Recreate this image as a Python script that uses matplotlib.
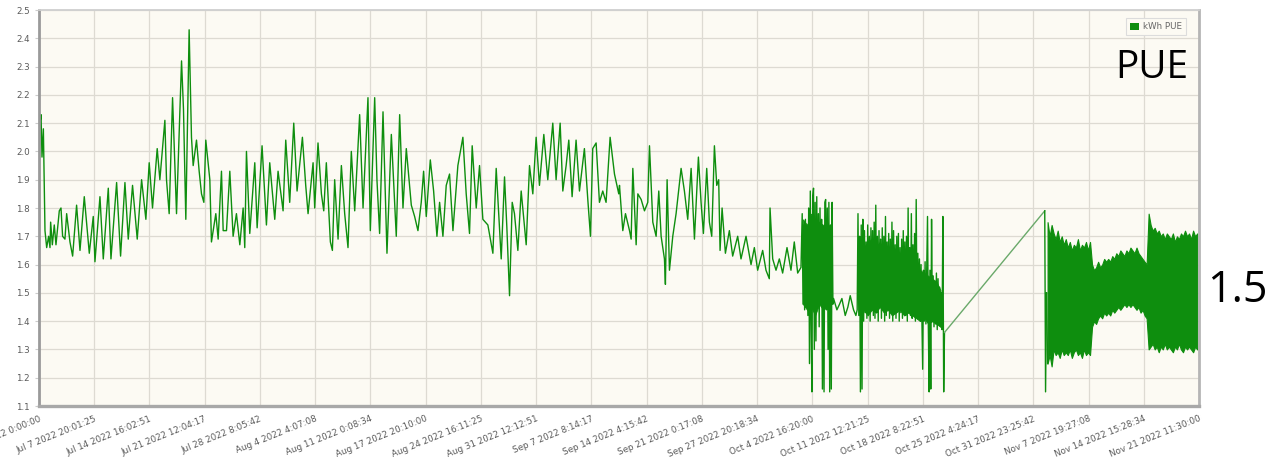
import numpy as np
import matplotlib.pyplot as plt
from matplotlib.patches import Patch

# PUE readings, days counted from Jul 1 2022 0:00
hist_day = [
    0.0, 0.12, 0.25, 0.37, 0.54, 0.74, 0.95, 1.19, 1.36, 1.44, 1.65, 1.89, 2.1, 2.3, 2.51,
    2.72, 2.92, 3.21, 3.42, 3.83, 4.16, 4.65, 5.07, 5.6, 5.97, 6.22, 6.71, 6.92, 7.54, 7.95,
    8.57, 8.9, 9.6, 10.09, 10.63, 11.04, 11.57, 12.15, 12.69, 13.22, 13.63, 14.04, 14.62, 14.95,
    15.57, 15.77, 16.1, 16.52, 17.01, 17.63, 17.87, 18.16, 18.57, 18.86, 19.07, 19.48, 19.81,
    20.1, 20.39, 20.63, 21.13, 21.33, 21.87, 22.16, 22.57, 22.78, 23.19, 23.6, 24.01, 24.42,
    24.84, 25.25, 25.45, 25.66, 26.07, 26.69, 26.98, 27.59, 28.13, 28.54, 29.16, 29.57, 30.19,
    30.52, 31.01, 31.51, 31.92, 32.58, 32.99, 33.28, 33.9, 34.1, 34.51,
    34.93, 35.22, 35.54, 36.04, 36.29, 36.57, 36.99, 37.4, 37.81, 38.22, 38.63, 39.05, 39.66,
    40.08, 40.69, 40.98, 41.52, 41.8, 42.13, 42.55, 43.04, 43.58, 44.19, 44.61, 45.02, 45.43,
    46.05, 46.46, 46.87, 47.28, 47.57, 47.9, 48.4, 48.81, 49.22, 49.55, 49.96, 50.37, 50.78,
    51.2, 51.81, 52.43, 52.84, 53.25, 53.58, 54.08, 54.49, 54.9, 55.52, 56.14, 56.55, 57.17,
    57.58, 57.87, 58.2, 58.53, 58.81, 59.23, 59.64, 60.26, 60.67, 61.08, 61.49, 61.9, 62.44,
    62.93, 63.55, 63.96, 64.46, 64.79, 65.2, 65.53, 65.94, 66.43, 66.85, 67.46, 67.88, 68.21,
    68.49, 68.91, 69.32, 69.73, 70.14, 70.64, 71.18, 71.71,
    71.8, 72.21, 72.54, 73.04, 73.24, 73.45, 73.86, 74.07, 74.48, 74.89, 75.3, 75.51, 75.92,
    76.33, 76.66, 76.95, 77.36, 77.48, 77.69, 77.98, 78.39, 78.8, 79.42, 79.83, 80.24, 80.66,
    81.07, 81.56, 81.89, 82.18, 82.59, 82.92, 83.21, 83.54, 83.83, 84.07, 84.24, 84.49, 84.9,
    85.39, 85.8, 86.42, 86.83, 87.45, 88.07, 88.48, 88.89, 89.51, 89.92, 90.33, 90.42, 90.75,
    91.16, 91.57, 91.98, 92.52, 93.01, 93.42, 93.84, 94.25,
]
hist_pue = [
    1.93, 2.10, 2.13, 1.98, 2.08, 1.72, 1.66, 1.70, 1.66, 1.75, 1.67, 1.74, 1.67, 1.73, 1.79,
    1.80, 1.70, 1.69, 1.78, 1.68, 1.63, 1.81, 1.65, 1.84, 1.72, 1.64, 1.77, 1.61, 1.84, 1.62,
    1.87, 1.62, 1.89, 1.63, 1.89, 1.69, 1.88, 1.69, 1.90, 1.76, 1.96, 1.80, 2.01, 1.90,
    2.11, 1.90, 1.78, 2.19, 1.78, 2.32, 2.15, 1.76, 2.43, 2.05, 1.95, 2.04, 1.93,
    1.85, 1.82, 2.04, 1.90, 1.68, 1.78, 1.69, 1.93, 1.72, 1.72, 1.93, 1.70, 1.78,
    1.67, 1.80, 1.66, 2.00, 1.71, 1.96, 1.73, 2.02, 1.74, 1.96, 1.76, 1.93, 1.79,
    2.04, 1.82, 2.10, 1.86, 2.05, 1.88, 1.78, 1.96, 1.80, 2.03,
    1.85, 1.79, 1.96, 1.68, 1.65, 1.90, 1.69, 1.95, 1.78, 1.66, 2.00, 1.79, 2.13,
    1.80, 2.19, 1.72, 2.19, 1.90, 1.71, 2.14, 1.64, 2.06, 1.70, 2.13, 1.80, 2.01,
    1.81, 1.77, 1.72, 1.82, 1.93, 1.77, 1.97, 1.86, 1.70, 1.82, 1.70, 1.88, 1.92,
    1.72, 1.95, 2.05, 1.85, 1.71, 2.02, 1.80, 1.95, 1.76, 1.74, 1.64, 1.94, 1.62,
    1.91, 1.73, 1.49, 1.82, 1.78, 1.65, 1.86, 1.67, 1.95, 1.85, 2.05, 1.88, 2.06,
    1.90, 2.10, 1.90, 2.10, 1.86, 1.95, 2.04, 1.84, 2.04, 1.86, 2.01, 1.83, 1.70,
    2.01, 2.03, 1.82, 1.86, 1.82, 2.05, 1.92, 1.85,
    1.88, 1.72, 1.78, 1.72, 1.69, 1.94, 1.67, 1.85, 1.83, 1.79, 1.82, 2.02, 1.75,
    1.70, 1.86, 1.70, 1.62, 1.53, 1.90, 1.58, 1.70, 1.78, 1.94, 1.86, 1.76, 1.94,
    1.69, 1.98, 1.82, 1.71, 1.94, 1.75, 1.70, 2.02, 1.88, 1.90, 1.65, 1.80, 1.64,
    1.72, 1.63, 1.70, 1.62, 1.70, 1.60, 1.66, 1.58, 1.65, 1.58, 1.55, 1.80, 1.62,
    1.58, 1.62, 1.57, 1.66, 1.58, 1.68, 1.57, 1.59,
]

# Oct 4 - Oct 8 unstable period, sampled every 0.1 day from day 94.4
burst_a_start = 94.4
burst_a_pue = [
    1.78, 1.46, 1.74, 1.44, 1.76, 1.45, 1.72, 1.42, 1.80, 1.25,
    1.86, 1.40, 1.15, 1.84, 1.87, 1.30, 1.82, 1.33, 1.84, 1.45,
    1.78, 1.38, 1.80, 1.48, 1.76, 1.16, 1.70, 1.15, 1.82, 1.83,
    1.44, 1.80, 1.30, 1.82, 1.15, 1.74, 1.16, 1.82, 1.46,
]
# dense core of the same period, high / low per 12 h from day 94.5
burst_a_core_start = 94.5
burst_a_core_hi = [1.76, 1.74, 1.78, 1.76, 1.75, 1.74, 1.75, 1.72]
burst_a_core_lo = [1.46, 1.44, 1.45, 1.42, 1.46, 1.44, 1.45, 1.46]

quiet_day = [98.28, 98.69, 99.02, 99.31, 99.72, 100.05, 100.34, 100.75, 101.04]
quiet_pue = [1.48, 1.44, 1.46, 1.48, 1.42, 1.45, 1.49, 1.44, 1.42]

# Oct 11 - Oct 22 unstable period, sampled every 0.1 day from day 101.2
burst_b_start = 101.2
burst_b_pue = [
    1.44, 1.78, 1.42, 1.70, 1.15, 1.74, 1.16, 1.76, 1.40, 1.72,
    1.43, 1.68, 1.41, 1.74, 1.45, 1.70, 1.40, 1.73, 1.44, 1.72,
    1.42, 1.75, 1.41, 1.81, 1.43, 1.70, 1.40, 1.72, 1.45, 1.69,
    1.41, 1.73, 1.44, 1.70, 1.40, 1.77, 1.42, 1.68, 1.45, 1.71,
    1.41, 1.69, 1.43, 1.75, 1.40, 1.72, 1.44, 1.67, 1.41, 1.70,
    1.44, 1.71, 1.40, 1.66, 1.43, 1.69, 1.41, 1.72, 1.45, 1.68,
    1.42, 1.70, 1.40, 1.80, 1.44, 1.66, 1.42, 1.78, 1.41, 1.67,
    1.43, 1.71, 1.40, 1.83, 1.42, 1.64, 1.45, 1.62, 1.40, 1.60,
    1.42, 1.23, 1.58, 1.40, 1.61, 1.39, 1.57, 1.77, 1.38, 1.15,
    1.58, 1.16, 1.76, 1.40, 1.56, 1.38, 1.54, 1.39, 1.57, 1.37,
    1.55, 1.40, 1.52, 1.38, 1.50, 1.37, 1.77, 1.15, 1.36,
]
burst_b_core_start = 101.5
burst_b_core_hi = [1.68, 1.66, 1.68, 1.69, 1.66, 1.68, 1.65, 1.67, 1.64, 1.66, 1.63,
                   1.66, 1.64, 1.62, 1.60, 1.58, 1.57, 1.56, 1.55, 1.54, 1.51]
burst_b_core_lo = [1.43, 1.44, 1.42, 1.44, 1.43, 1.45, 1.43, 1.44, 1.42, 1.43, 1.44,
                   1.42, 1.43, 1.42, 1.41, 1.40, 1.41, 1.39, 1.40, 1.39, 1.38]

# no logging between Oct 22 and Nov 2
gap_day = [124.4, 124.5, 124.62]
gap_pue = [1.79, 1.15, 1.50]

# Nov band: readings swing every few minutes, kept as high / low per 6 h
band_start = 124.75
band_hi = [
    1.75, 1.70, 1.74, 1.71, 1.69, 1.72, 1.68, 1.70, 1.67, 1.69,
    1.66, 1.68, 1.65, 1.67, 1.66, 1.69, 1.65, 1.67, 1.66, 1.68,
    1.65, 1.68, 1.60, 1.58, 1.59, 1.61, 1.59, 1.60, 1.62, 1.61,
    1.62, 1.61, 1.63, 1.62, 1.64, 1.63, 1.65, 1.64, 1.63, 1.65,
    1.64, 1.66, 1.65, 1.64, 1.66, 1.64, 1.63, 1.62, 1.61, 1.60,
    1.78, 1.74, 1.72, 1.73, 1.71, 1.72, 1.70, 1.71, 1.69, 1.71,
    1.70, 1.69, 1.71, 1.68, 1.70, 1.69, 1.71, 1.70, 1.72, 1.70,
    1.71, 1.69, 1.72, 1.70, 1.71,
]
band_lo = [
    1.25, 1.28, 1.24, 1.30, 1.28, 1.29, 1.27, 1.30, 1.28, 1.29,
    1.28, 1.30, 1.27, 1.29, 1.30, 1.28, 1.29, 1.27, 1.30, 1.28,
    1.29, 1.28, 1.38, 1.40, 1.39, 1.41, 1.42, 1.41, 1.43, 1.42,
    1.43, 1.42, 1.44, 1.43, 1.44, 1.45, 1.44, 1.45, 1.46, 1.45,
    1.46, 1.45, 1.46, 1.45, 1.44, 1.45, 1.43, 1.44, 1.42, 1.41,
    1.30, 1.31, 1.32, 1.30, 1.31, 1.29, 1.31, 1.30, 1.32, 1.30,
    1.31, 1.30, 1.29, 1.31, 1.30, 1.32, 1.30, 1.29, 1.31, 1.30,
    1.31, 1.30, 1.29, 1.31, 1.30,
]

tick_labels = [
    "Jul 1 2022 0:00:00", "Jul 7 2022 20:01:25", "Jul 14 2022 16:02:51", "Jul 21 2022 12:04:17",
    "Jul 28 2022 8:05:42", "Aug 4 2022 4:07:08", "Aug 11 2022 0:08:34", "Aug 17 2022 20:10:00",
    "Aug 24 2022 16:11:25", "Aug 31 2022 12:12:51", "Sep 7 2022 8:14:17", "Sep 14 2022 4:15:42",
    "Sep 21 2022 0:17:08", "Sep 27 2022 20:18:34", "Oct 4 2022 16:20:00", "Oct 11 2022 12:21:25",
    "Oct 18 2022 8:22:51", "Oct 25 2022 4:24:17", "Oct 31 2022 23:25:42", "Nov 7 2022 19:27:08",
    "Nov 14 2022 15:28:34", "Nov 21 2022 11:30:00",
]
end_day = 143.479

burst_a_day = burst_a_start + 0.1 * np.arange(len(burst_a_pue))
burst_b_day = burst_b_start + 0.1 * np.arange(len(burst_b_pue))
core_a_day = burst_a_core_start + 0.5 * np.arange(len(burst_a_core_hi))
core_b_day = burst_b_core_start + 0.5 * np.arange(len(burst_b_core_hi))
band_day = band_start + 0.25 * np.arange(len(band_hi))

day = np.concatenate([hist_day, burst_a_day, quiet_day, burst_b_day])
pue = np.concatenate([hist_pue, burst_a_pue, quiet_pue, burst_b_pue])

green = "#0e8e0e"

fig = plt.figure(figsize=(12.67, 4.69), dpi=100)
ax = fig.add_axes([39 / 1267, 1 - 406 / 469, 1160 / 1267, 396 / 469])
ax.set_facecolor("#fcfaf3")

ax.plot(day, pue, color=green, lw=1.0)
ax.fill_between(core_a_day, burst_a_core_lo, burst_a_core_hi, color=green, lw=0.6)
ax.fill_between(core_b_day, burst_b_core_lo, burst_b_core_hi, color=green, lw=0.6)

# straight join across the logging gap, then the drop into the Nov data
ax.plot([day[-1], gap_day[0]], [pue[-1], gap_pue[0]], color="#6aa96a", lw=1.0)
ax.plot(gap_day, gap_pue, color=green, lw=1.0)
ax.plot([gap_day[-1], band_day[0]], [gap_pue[-1], band_lo[0]], color=green, lw=1.0)
ax.fill_between(band_day, band_lo, band_hi, color=green, lw=0.8, edgecolor=green)

ax.set_xlim(0, end_day)
ax.set_ylim(1.1, 2.5)
ax.set_xticks(np.linspace(0, end_day, len(tick_labels)))
ax.set_xticklabels(tick_labels, rotation=22, ha="right", rotation_mode="anchor")
ax.set_yticks(np.arange(1.1, 2.51, 0.1))
ax.set_yticklabels([f"{v:.1f}" for v in np.arange(1.1, 2.51, 0.1)])
ax.tick_params(axis="both", labelsize=6.3, labelcolor="#5a5a5a", color="#cccccc", length=3)
ax.tick_params(axis="x", length=0, pad=6)
ax.grid(True, color="#dddad2", lw=0.9)
ax.set_axisbelow(True)

ax.spines["left"].set_color("#9a9a9a")
ax.spines["left"].set_linewidth(2)
ax.spines["bottom"].set_color("#a8a8a8")
ax.spines["bottom"].set_linewidth(2.4)
ax.spines["top"].set_color("#cfcfcf")
ax.spines["top"].set_linewidth(1.3)
ax.spines["right"].set_color("#b5b5b5")
ax.spines["right"].set_linewidth(2)

leg = ax.legend(handles=[Patch(facecolor=green, label="kWh PUE")], loc="upper right",
                bbox_to_anchor=(0.9925, 0.99), fontsize=6.3, handlelength=1.1, handleheight=0.8,
                handletextpad=0.4, borderpad=0.45, fancybox=False, framealpha=1)
leg.get_frame().set_edgecolor("#dcdcdc")
leg.get_frame().set_facecolor("#fcfaf3")
leg.get_frame().set_linewidth(0.8)
for t in leg.get_texts():
    t.set_color("#666666")

fig.text(1188 / 1267, 1 - 78 / 469, "PUE", fontsize=28, family="Open Sans",
         ha="right", va="baseline", color="black")
fig.text(1207 / 1267, 1 - 302 / 469, "1.5", fontsize=31, family="Open Sans",
         ha="left", va="baseline", color="black")

fig.savefig("out.png", dpi=100, facecolor="white")
